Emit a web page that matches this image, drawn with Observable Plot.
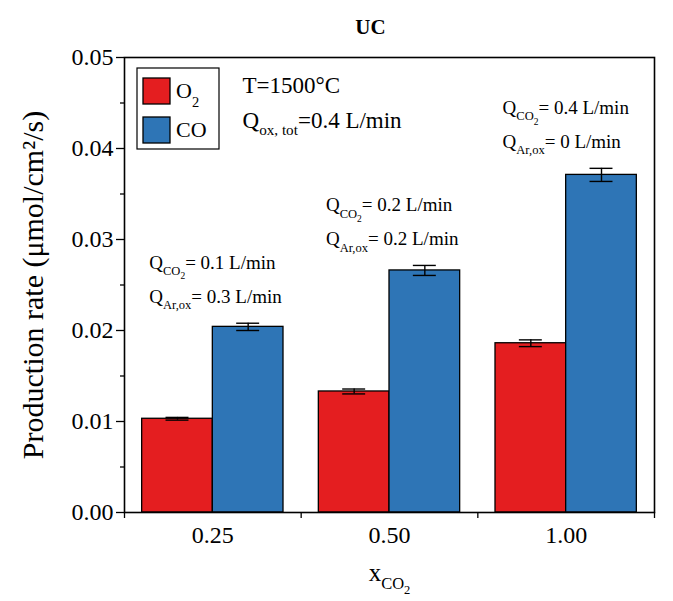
<!DOCTYPE html>
<html><head><meta charset="utf-8">
<script src="https://cdn.jsdelivr.net/npm/d3@7"></script>
<script src="https://cdn.jsdelivr.net/npm/@observablehq/plot@0.6"></script>
<style>html,body{margin:0;padding:0;background:#fff;} #chart svg{display:block}</style>
</head><body><div id="chart"></div>
<script>
// ---- data ----
const groups = ["0.25", "0.50", "1.00"];
const seriesNames = ["O_{2}", "CO"];
const seriesColors = ["#e41e20", "#2e75b6"];
const o2Values = [0.0103, 0.0133, 0.0186];
const o2Errors = [0.00015, 0.00027, 0.00037];
const coValues = [0.0204, 0.0266, 0.0371];
const coErrors = [0.0004, 0.00055, 0.00072];
const qCO2Labels = ["Q_{CO_{2}}= 0.1 L/min", "Q_{CO_{2}}= 0.2 L/min", "Q_{CO_{2}}= 0.4 L/min"];
const qArLabels = ["Q_{Ar,ox}= 0.3 L/min", "Q_{Ar,ox}= 0.2 L/min", "Q_{Ar,ox}= 0 L/min"];
const yMajorTicks = [0, 0.01, 0.02, 0.03, 0.04, 0.05];
const yMinorTicks = [0.005, 0.015, 0.025, 0.035, 0.045];
const titleText = "UC";
const yLabelText = "Production rate (μmol/cm²/s)";
const xLabelText = "x_{CO_{2}}";
const conditionLabels = ["T=1500°C", "Q_{ox, tot}=0.4 L/min"];

// ---- layout constants ----
const W = 673, H = 601;
const ML = 124, MR = 19, MT = 57, MB = 89;
const inset = 0.1, bw = 0.4, capHalf = 0.065, noteInset = 0.14;
const FONT = "'Liberation Serif', 'Times New Roman', serif";

const bars = [];
groups.forEach((g, i) => {
  bars.push({i, series: seriesNames[0], slot: 0, value: o2Values[i], err: o2Errors[i]});
  bars.push({i, series: seriesNames[1], slot: 1, value: coValues[i], err: coErrors[i]});
});
const bx1 = d => d.i + inset + d.slot * bw;
const bx2 = d => d.i + inset + (d.slot + 1) * bw;
const bxc = d => d.i + inset + (d.slot + 0.5) * bw;

const notes = groups.map((g, i) => ({i, top: coValues[i] + coErrors[i], l1: qCO2Labels[i], l2: qArLabels[i]}));
const boundaries = d3.range(groups.length + 1);
const centers = groups.map((g, i) => i + 0.5);

const plot = Plot.plot({
  width: W, height: H,
  marginLeft: ML, marginRight: MR, marginTop: MT, marginBottom: MB,
  style: {fontFamily: FONT, fontSize: "21px", background: "white", color: "black"},
  x: {domain: [0, groups.length]},
  y: {domain: [0, 0.05]},
  color: {domain: seriesNames, range: seriesColors},
  marks: [
    Plot.rect(bars, {x1: bx1, x2: bx2, y1: 0, y2: "value", fill: "series", stroke: "black", strokeWidth: 1.3}),
    Plot.ruleX(bars, {x: bxc, y1: d => d.value - d.err, y2: d => d.value + d.err, stroke: "black", strokeWidth: 1.4}),
    Plot.ruleY(bars, {x1: d => bxc(d) - capHalf, x2: d => bxc(d) + capHalf, y: d => d.value + d.err, stroke: "black", strokeWidth: 1.4}),
    Plot.ruleY(bars, {x1: d => bxc(d) - capHalf, x2: d => bxc(d) + capHalf, y: d => d.value - d.err, stroke: "black", strokeWidth: 1.4}),
    Plot.text(notes, {x: d => d.i + noteInset, y: "top", text: "l1", dy: -54, textAnchor: "start", lineAnchor: "bottom", fontSize: 19}),
    Plot.text(notes, {x: d => d.i + noteInset, y: "top", text: "l2", dy: -20, textAnchor: "start", lineAnchor: "bottom", fontSize: 19}),
    Plot.axisX({ticks: boundaries, tickSize: 6, tickFormat: () => "", label: null, strokeWidth: 1.3}),
    Plot.axisX({ticks: centers, tickSize: 0, tickPadding: 13, tickFormat: v => groups[Math.round(v - 0.5)], label: null, fontSize: 24}),
    Plot.axisY({ticks: yMajorTicks, tickSize: 8, tickPadding: 3, tickFormat: d3.format(".2f"), label: null, fontSize: 24, strokeWidth: 1.3}),
    Plot.axisY({ticks: yMinorTicks, tickSize: 4, tickFormat: () => "", label: null, strokeWidth: 1.3}),
    Plot.frame({stroke: "black", strokeWidth: 1.6}),
    Plot.text([titleText], {text: d => d, frameAnchor: "top", textAnchor: "middle", dx: -19, dy: -24, lineAnchor: "bottom", fontWeight: "bold", fontSize: 21}),
    Plot.text([yLabelText], {text: d => d, frameAnchor: "left", textAnchor: "middle", rotate: -90, dx: -91, lineAnchor: "middle", fontSize: 30}),
    Plot.text([xLabelText], {text: d => d, frameAnchor: "bottom", textAnchor: "middle", dy: 68, lineAnchor: "bottom", fontSize: 25}),
    Plot.text([conditionLabels[0]], {text: d => d, frameAnchor: "top-left", dx: 118, dy: 35, textAnchor: "start", lineAnchor: "bottom", fontSize: 23}),
    Plot.text([conditionLabels[1]], {text: d => d, frameAnchor: "top-left", dx: 118, dy: 70, textAnchor: "start", lineAnchor: "bottom", fontSize: 23})
  ]
});
document.getElementById("chart").appendChild(plot);

// ---- rich text (subscripts) ----
function parseMarkup(s) {
  const segs = []; let level = 0, buf = "";
  for (let k = 0; k < s.length; k++) {
    if (s[k] === "_" && s[k + 1] === "{") { if (buf) segs.push([buf, level]); buf = ""; level++; k++; }
    else if (s[k] === "}" && level > 0) { if (buf) segs.push([buf, level]); buf = ""; level--; }
    else buf += s[k];
  }
  if (buf) segs.push([buf, level]);
  return segs;
}
function richify(node, markup, base, shift1) {
  const segs = parseMarkup(markup);
  const sel = d3.select(node); sel.text(null);
  const scale = [1, 0.66, 0.5], shift = [0, shift1 || 0.32, (shift1 || 0.32) + 0.22];
  let prev = 0;
  for (const [t, lv] of segs) {
    sel.append("tspan").attr("font-size", (base * scale[lv]).toFixed(2)).attr("dy", ((shift[lv] - shift[prev]) * base).toFixed(2)).text(t);
    prev = lv;
  }
}
const svg = d3.select(plot.tagName.toLowerCase() === "svg" ? plot : plot.querySelector("svg"));
svg.selectAll("text").each(function () {
  const s = this.textContent;
  if (s.includes("_{")) {
    const base = parseFloat(getComputedStyle(this).fontSize) || 20;
    richify(this, s, base);
  }
});

// ---- legend ----
const color = plot.scale("color");
const lg = svg.append("g").attr("font-family", FONT).attr("font-size", 22).attr("text-anchor", "start");
lg.append("rect").attr("x", ML + 13).attr("y", MT + 11).attr("width", 82).attr("height", 81)
  .attr("fill", "white").attr("stroke", "black").attr("stroke-width", 1.2);
seriesNames.forEach((s, k) => {
  lg.append("rect").attr("x", ML + 19).attr("y", MT + 21 + k * 39).attr("width", 27).attr("height", 26)
    .attr("fill", color.apply(s)).attr("stroke", "black").attr("stroke-width", 1.3);
  const t = lg.append("text").attr("x", ML + 52).attr("y", MT + 41 + k * 39).attr("text-anchor", "start").text(s);
  if (s.includes("_{")) richify(t.node(), s, 22, 0.42);
});
</script>
</body></html>
